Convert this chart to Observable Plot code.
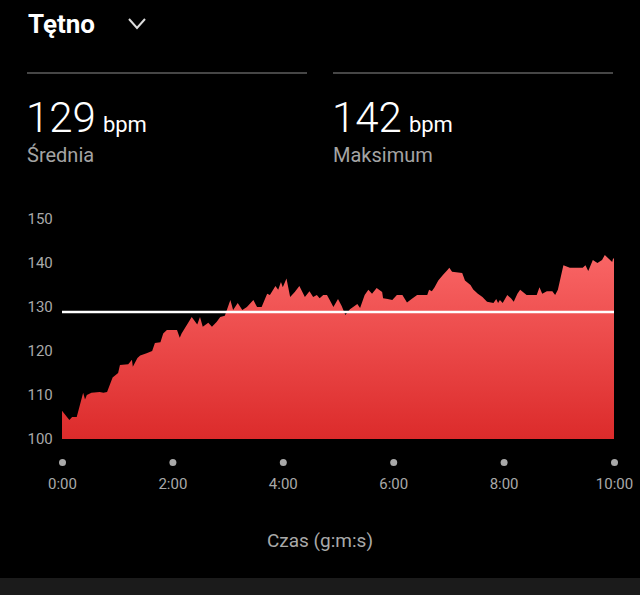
<!DOCTYPE html>
<html>
<head>
<meta charset="utf-8">
<script src="https://cdn.jsdelivr.net/npm/d3@7"></script>
<script src="https://cdn.jsdelivr.net/npm/@observablehq/plot@0.6"></script>
<style>
  html, body { margin: 0; padding: 0; background: #000; }
  body { width: 640px; height: 595px; overflow: hidden; position: relative; font-family: Roboto, "Noto Sans", sans-serif; }
  .abs { position: absolute; line-height: 1; white-space: nowrap; }
  .title { left: 28px; top: 11px; font-size: 26px; font-weight: 700; color: #fff; }
  .divider { position: absolute; top: 72px; height: 2px; background: #464646; }
  .big { font-size: 42px; font-weight: 300; color: #fff; }
  .unit { font-size: 22px; font-weight: 400; margin-left: 7px; }
  .sub { font-size: 20px; color: #a4a4a4; }
  .caption { left: 0; width: 640px; text-align: center; top: 531px; font-size: 19px; color: #a9a9a9; }
  .band { position: absolute; left: 0; top: 578px; width: 640px; height: 17px; background: #1b1b1b; }
  #chart { position: absolute; left: 0; top: 190px; }
</style>
</head>
<body>
<div class="abs title" id="title"></div>
<svg class="abs" style="left:124px;top:12px" width="26" height="22"><polyline points="5,7 13,16 21,7" fill="none" stroke="#dcdcdc" stroke-width="2"/></svg>
<div class="divider" style="left:27px;width:280px"></div>
<div class="divider" style="left:333px;width:280px"></div>
<div class="abs big" id="avgVal" style="left:26px;top:97px"></div>
<div class="abs sub" id="avgLab" style="left:27px;top:145px"></div>
<div class="abs big" id="maxVal" style="left:332px;top:97px"></div>
<div class="abs sub" id="maxLab" style="left:333px;top:145px"></div>
<div id="chart"></div>
<div class="abs caption" id="caption"></div>
<div class="band"></div>
<script>
// ---- data ----
const titleText = "Tętno";
const unitText = "bpm";
const avgBpm = 129;
const maxBpm = 142;
const avgLabel = "Średnia";
const maxLabel = "Maksimum";
const xAxisLabel = "Czas (g:m:s)";

const yTicks = [100, 110, 120, 130, 140, 150];
const xTicks = [0, 120, 240, 360, 480, 600];
const xTickLabels = ["0:00", "2:00", "4:00", "6:00", "8:00", "10:00"];

const timeSec = [
  0, 8, 11, 16, 23, 25, 27, 32, 41, 45,
  49, 55, 61, 63, 72, 76, 77, 82, 85, 92,
  98, 101, 107, 110, 114, 125, 128, 130, 136, 141,
  147, 150, 153, 159, 163, 168, 172, 177, 183, 186,
  191, 196, 201, 208, 212, 217, 223, 226, 232, 235,
  238, 240, 244, 248, 253, 258, 264, 269, 273, 277,
  280, 284, 288, 291, 295, 300, 304, 308, 313, 321,
  324, 329, 333, 337, 342, 348, 349, 354, 359, 364,
  370, 375, 380, 386, 397, 399, 402, 405, 409, 414,
  419, 421, 424, 435, 438, 444, 447, 452, 457, 462,
  469, 472, 474, 476, 479, 484, 488, 491, 495, 498,
  505, 516, 519, 522, 527, 533, 536, 539, 545, 552,
  566, 569, 572, 577, 582, 587, 590, 594, 598, 599,
  600
];
const heartRate = [
  106.4, 104.3, 105, 105, 110.5, 109, 110, 110.5, 110.7, 110.5,
  110.7, 114, 115, 116.8, 117, 118, 116.4, 118.4, 119, 119.5,
  120, 121.8, 122, 124, 124.8, 124.8, 123, 124, 126, 127.7,
  126, 127.7, 125.5, 126.4, 125.5, 126.6, 127.7, 128, 131.6, 129.3,
  130.9, 129.3, 130, 131.6, 130, 130, 133, 132.7, 134.8, 133.9,
  135.7, 134.5, 136.5, 132.3, 133.4, 134.8, 132.3, 133.6, 132.3, 132.7,
  132, 132.7, 132.7, 131.6, 130, 131.8, 130.2, 128.2, 129.5, 130.7,
  129.8, 132.7, 133.9, 133, 134.3, 133.4, 132, 131.8, 131.6, 132.7,
  132.7, 131, 131.8, 132.7, 132.7, 133.9, 133.6, 134.5, 136, 137.3,
  138.4, 138.9, 138, 137.7, 136, 135, 134, 133, 132.3, 131.2,
  130.9, 131.8, 130.9, 131.6, 130.9, 132.7, 132, 131.2, 133, 133.9,
  132.7, 132.7, 134.5, 133, 133.6, 133.6, 132.7, 133.9, 139.5, 138.9,
  138.9, 139.5, 138.2, 140.7, 140, 140.7, 141.8, 141, 140.2, 141,
  141
];

const data = timeSec.map((t, i) => ({t, v: heartRate[i]}));

// ---- header ----
document.getElementById("title").textContent = titleText;
document.getElementById("avgVal").innerHTML = `${avgBpm}<span class="unit">${unitText}</span>`;
document.getElementById("maxVal").innerHTML = `${maxBpm}<span class="unit">${unitText}</span>`;
document.getElementById("avgLab").textContent = avgLabel;
document.getElementById("maxLab").textContent = maxLabel;
document.getElementById("caption").textContent = xAxisLabel;

// ---- chart ----
const chart = Plot.plot({
  width: 640,
  height: 330,
  marginLeft: 62,
  marginRight: 26,
  marginTop: 29,
  marginBottom: 81,
  style: {background: "transparent", color: "#a9a9a9", fontFamily: "Roboto, sans-serif", fontSize: "15px", overflow: "visible"},
  x: {domain: [0, 600], label: null},
  y: {domain: [100, 150], label: null},
  marks: [
    Plot.areaY(data, {x: "t", y1: 100, y2: "v", fill: "url(#hrGrad)"}),
    Plot.ruleY([avgBpm], {stroke: "#ffffff", strokeWidth: 2.5}),
    Plot.axisY({ticks: yTicks, tickSize: 0, tickPadding: 0, textAnchor: "start", dx: -35, fill: "#a9a9a9", label: null}),
    Plot.axisX({ticks: xTicks, tickSize: 0, tickPadding: 39, fill: "#a9a9a9", label: null,
      tickFormat: d => xTickLabels[xTicks.indexOf(d)]}),
    Plot.dotX(xTicks, {frameAnchor: "bottom", dy: 23, r: 3.5, fill: "#a9a9a9", stroke: null})
  ]
});

const defs = d3.select(chart).insert("defs", ":first-child");
const grad = defs.append("linearGradient").attr("id", "hrGrad")
  .attr("x1", 0).attr("y1", 0).attr("x2", 0).attr("y2", 1);
grad.append("stop").attr("offset", "0%").attr("stop-color", "#f96565");
grad.append("stop").attr("offset", "100%").attr("stop-color", "#dc2b2b");

document.getElementById("chart").appendChild(chart);
</script>
</body>
</html>
